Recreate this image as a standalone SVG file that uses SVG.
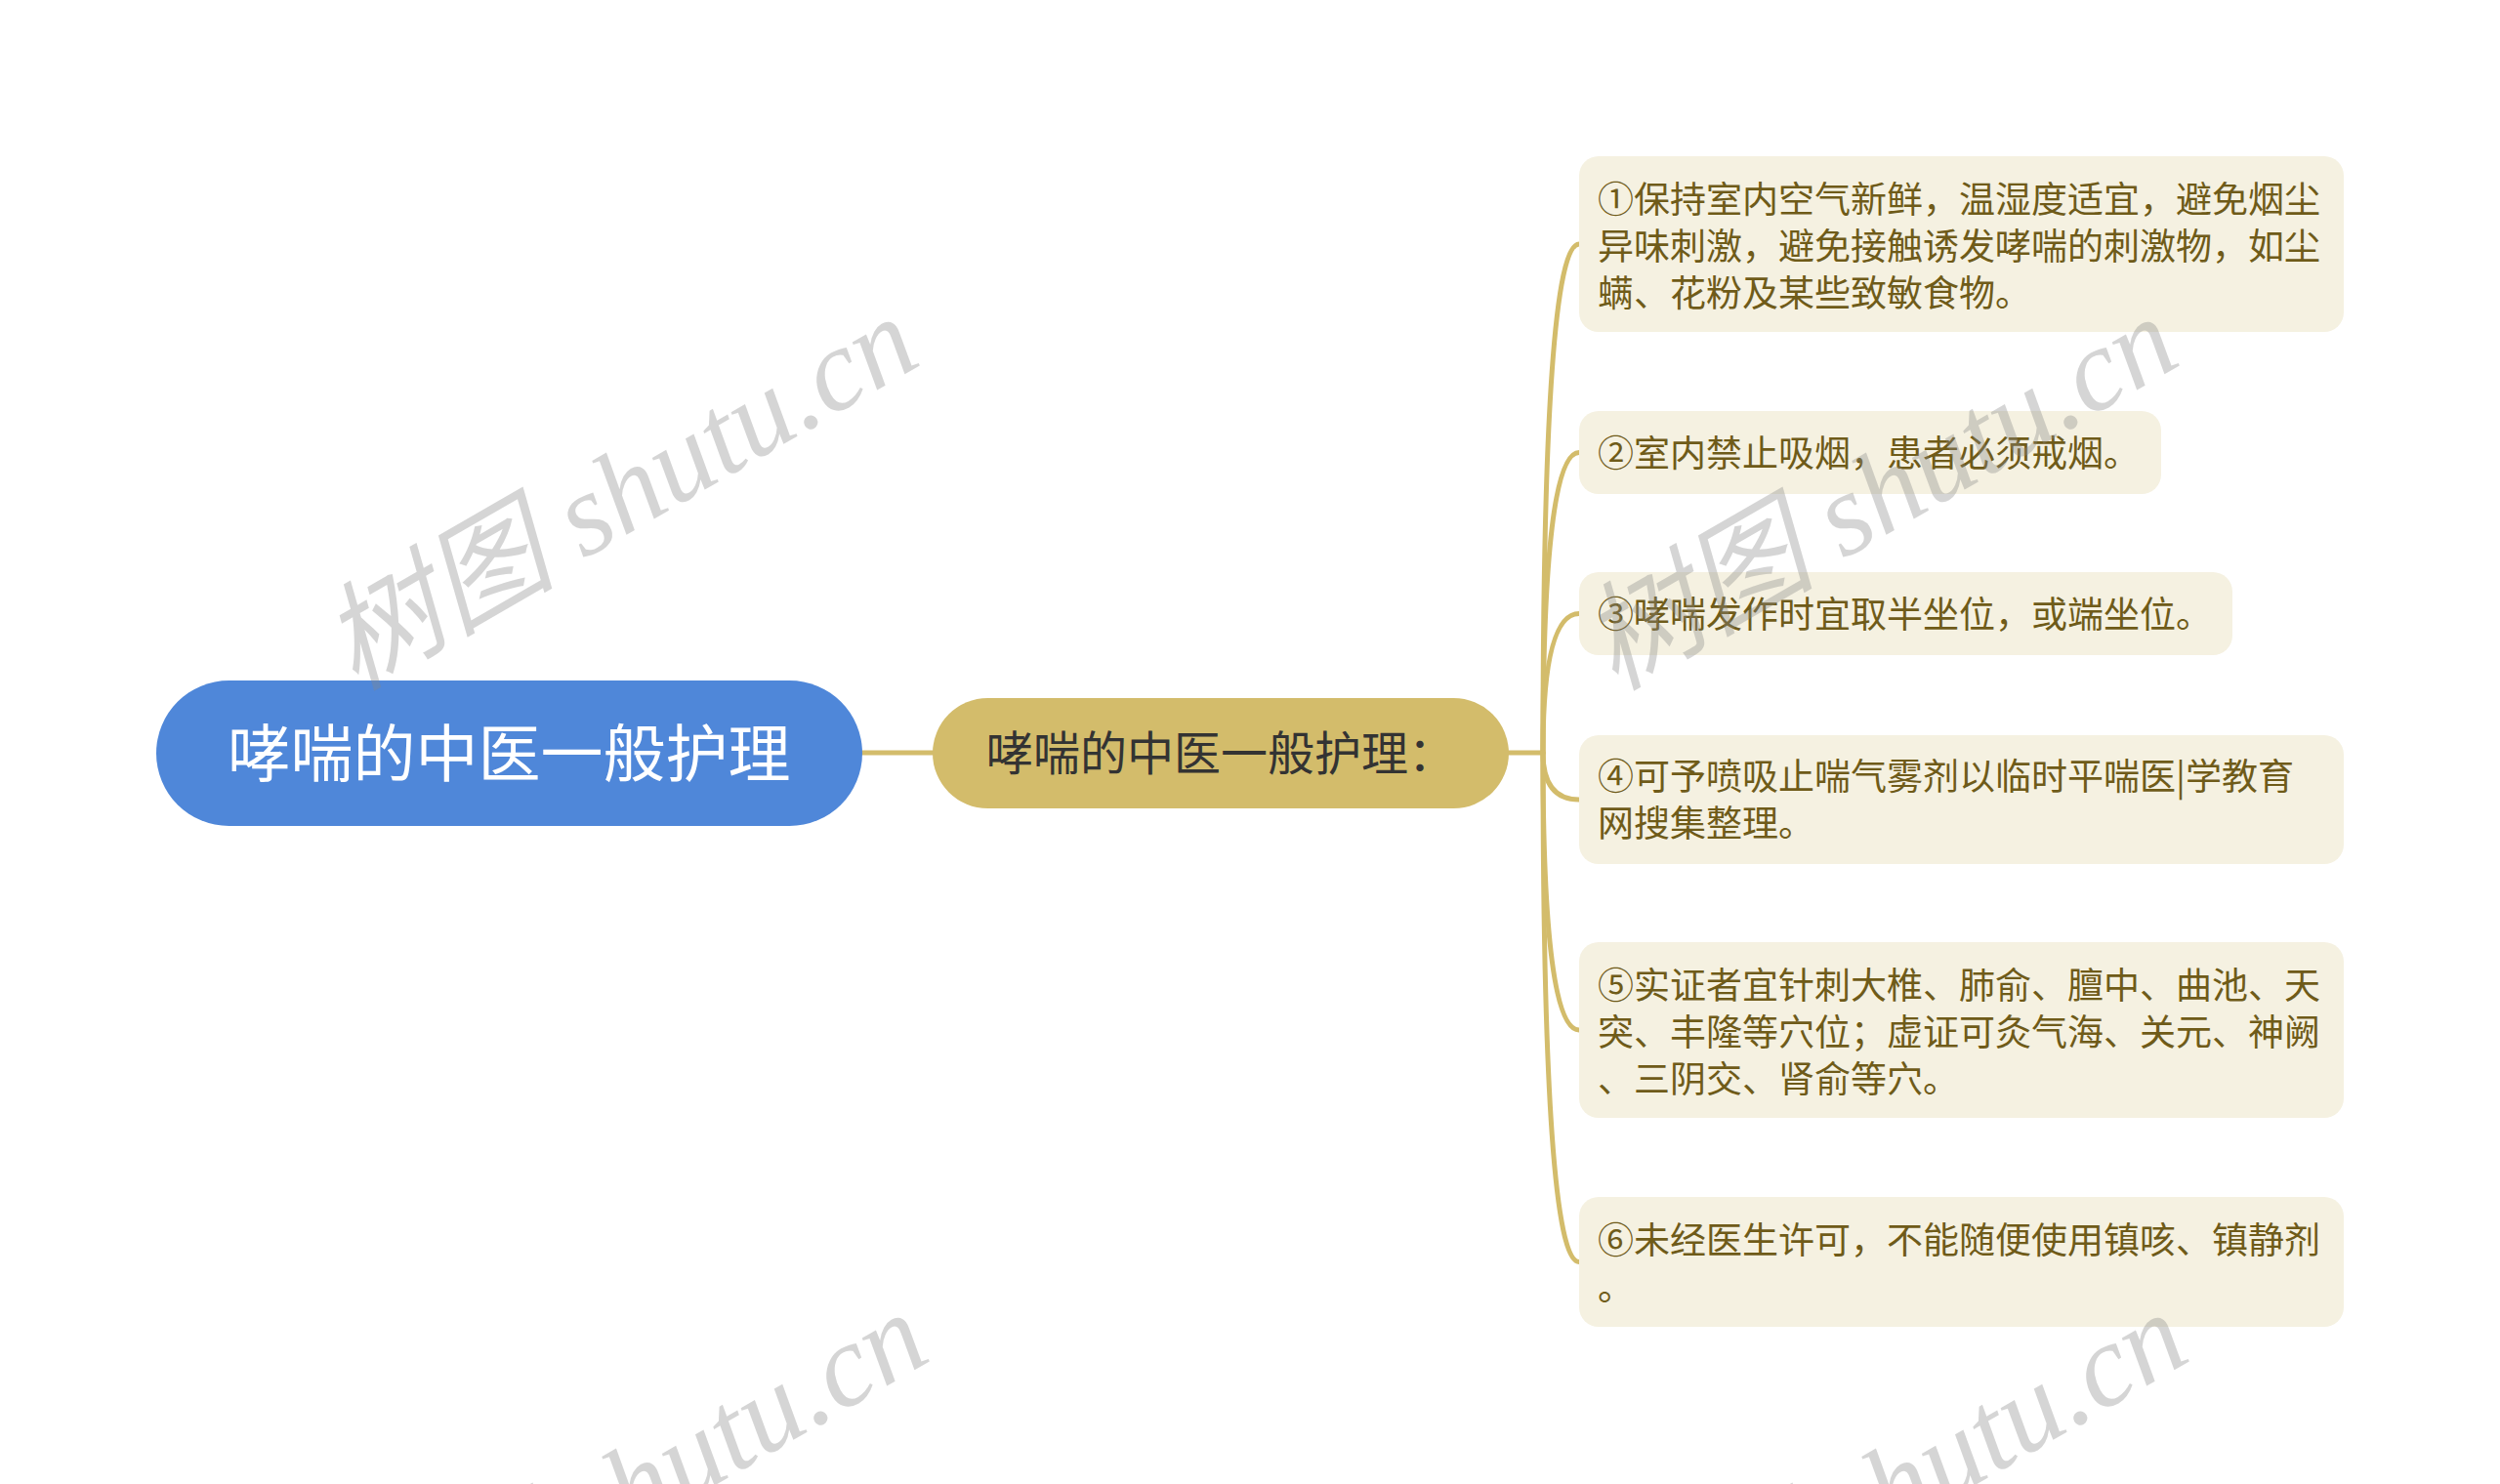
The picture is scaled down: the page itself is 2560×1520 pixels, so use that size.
<svg xmlns="http://www.w3.org/2000/svg" width="2560" height="1520" viewBox="0 0 2560 1520">
<style>
.conn{fill:none;stroke:#d3bc6b;stroke-width:5;stroke-linecap:round}
.leaf rect{fill:#f5f1e1}
.leaf text{font-family:"Noto Sans CJK SC","Noto Sans",sans-serif;font-size:37px;fill:#6f5b19}
.wm{font-family:"Liberation Serif","Noto Sans CJK SC",serif;font-style:italic;font-size:120px;fill:#888;fill-opacity:0.35}
</style>
<rect width="2560" height="1520" fill="#ffffff"/>
<g id="connectors">
<path class="conn" d="M883 771 L955 771"/>
<path class="conn" d="M1545 771 L1580 771"/>
<path class="conn" d="M1580 771 Q1580 250 1617 250"/>
<path class="conn" d="M1580 771 Q1580 463.5 1617 463.5"/>
<path class="conn" d="M1580 771 Q1580 628.5 1617 628.5"/>
<path class="conn" d="M1580 771 Q1580 819 1617 819"/>
<path class="conn" d="M1580 771 Q1580 1055 1617 1055"/>
<path class="conn" d="M1580 771 Q1580 1292.5 1617 1292.5"/>
</g>
<g id="root">
<rect x="160" y="697" width="723" height="149" rx="74.5" fill="#4f87d9"/>
<text x="521.5" y="795" text-anchor="middle" font-family="Noto Sans CJK SC, Noto Sans, sans-serif" font-size="64" fill="#ffffff">哮喘的中医一般护理</text>
</g>
<g id="sub">
<rect x="955" y="715" width="590" height="113" rx="56.5" fill="#d3bc6b"/>
<text x="1250" y="789" text-anchor="middle" font-family="Noto Sans CJK SC, Noto Sans, sans-serif" font-size="48" fill="#333333">哮喘的中医一般护理：</text>
</g>
<g id="leaf1" class="leaf">
<rect x="1617" y="160" width="783" height="180" rx="20"/>
<text x="1636" y="218">①保持室内空气新鲜，温湿度适宜，避免烟尘</text>
<text x="1636" y="266">异味刺激，避免接触诱发哮喘的刺激物，如尘</text>
<text x="1636" y="314">螨、花粉及某些致敏食物。</text>
</g>
<g id="leaf2" class="leaf">
<rect x="1617" y="421" width="596" height="85" rx="20"/>
<text x="1636" y="478">②室内禁止吸烟，患者必须戒烟。</text>
</g>
<g id="leaf3" class="leaf">
<rect x="1617" y="586" width="669" height="85" rx="20"/>
<text x="1636" y="643">③哮喘发作时宜取半坐位，或端坐位。</text>
</g>
<g id="leaf4" class="leaf">
<rect x="1617" y="753" width="783" height="132" rx="20"/>
<text x="1636" y="809">④可予喷吸止喘气雾剂以临时平喘医|学教育</text>
<text x="1636" y="857">网搜集整理。</text>
</g>
<g id="leaf5" class="leaf">
<rect x="1617" y="965" width="783" height="180" rx="20"/>
<text x="1636" y="1023">⑤实证者宜针刺大椎、肺俞、膻中、曲池、天</text>
<text x="1636" y="1071">突、丰隆等穴位；虚证可灸气海、关元、神阙</text>
<text x="1636" y="1119">、三阴交、肾俞等穴。</text>
</g>
<g id="leaf6" class="leaf">
<rect x="1617" y="1226" width="783" height="133" rx="20"/>
<text x="1636" y="1284">⑥未经医生许可，不能随便使用镇咳、镇静剂</text>
<text x="1636" y="1332">。</text>
</g>
<g id="watermarks">
<text class="wm" text-anchor="middle" transform="translate(655 540) rotate(-30)">树图 shutu.cn</text>
<text class="wm" text-anchor="middle" transform="translate(1945 540) rotate(-30)">树图 shutu.cn</text>
<text class="wm" text-anchor="middle" transform="translate(665 1560) rotate(-30)">树图 shutu.cn</text>
<text class="wm" text-anchor="middle" transform="translate(1955 1560) rotate(-30)">树图 shutu.cn</text>
</g>
</svg>
